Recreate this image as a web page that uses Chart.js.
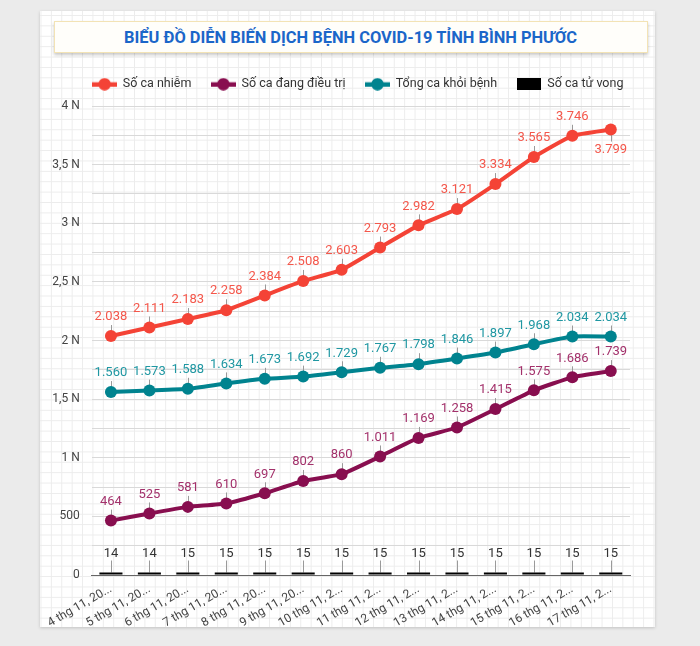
<!DOCTYPE html>
<html>
<head>
<meta charset="utf-8">
<script src="https://cdn.jsdelivr.net/npm/chart.js@4/dist/chart.umd.min.js"></script>
<style>
  html, body { margin:0; padding:0; }
  body { width:700px; height:646px; background:#ebebeb; position:relative; overflow:hidden; font-family:Roboto, sans-serif; }
  #card {
    position:absolute; left:40px; top:11px; width:615px; height:616px;
    background-color:#fff;
    background-image:
      linear-gradient(to right, #ececec 1px, transparent 1px),
      linear-gradient(to bottom, #ececec 1px, transparent 1px);
    background-size:10.4px 10.4px;
    background-position:0.5px 4px;
    box-shadow:0 1px 3px rgba(0,0,0,0.18);
  }
  #titlebox {
    position:absolute; left:54px; top:21px; width:592px; height:30px;
    background:#fffefa; border:1px solid #f3e3b5;
    box-shadow:0 2px 3px rgba(0,0,0,0.22);
    display:flex; align-items:center; justify-content:center;
  }
  #title {
    display:inline-block; white-space:nowrap;
    font-family:Roboto, sans-serif; font-weight:bold; font-size:17px; color:#1b66c9;
    transform-origin:center center;
  }
  #wrap { position:absolute; left:40px; top:56px; width:615px; height:571px; }
</style>
</head>
<body>
<div id="card"></div>
<div id="titlebox"><span id="title">BIỂU ĐỒ DIỄN BIẾN DỊCH BỆNH COVID-19 TỈNH BÌNH PHƯỚC</span></div>
<div id="wrap"><canvas id="c" width="615" height="571"></canvas></div>
<script>
// ---- data ----
const categories = ["4 thg 11, 2021","5 thg 11, 2021","6 thg 11, 2021","7 thg 11, 2021","8 thg 11, 2021","9 thg 11, 2021","10 thg 11, 2021","11 thg 11, 2021","12 thg 11, 2021","13 thg 11, 2021","14 thg 11, 2021","15 thg 11, 2021","16 thg 11, 2021","17 thg 11, 2021"];
const soCaNhiem   = [2038, 2111, 2183, 2258, 2384, 2508, 2603, 2793, 2982, 3121, 3334, 3565, 3746, 3799];
const dangDieuTri = [464, 525, 581, 610, 697, 802, 860, 1011, 1169, 1258, 1415, 1575, 1686, 1739];
const khoiBenh    = [1560, 1573, 1588, 1634, 1673, 1692, 1729, 1767, 1798, 1846, 1897, 1968, 2034, 2034];
const tuVong      = [14, 14, 15, 15, 15, 15, 15, 15, 15, 15, 15, 15, 15, 15];
const seriesNames = ["Số ca nhiễm", "Số ca đang điều trị", "Tổng ca khỏi bệnh", "Số ca tử vong"];
const yMin = 0, yMax = 4000, yStep = 250;

// title fit
(function(){
  const t = document.getElementById('title');
  const w = t.getBoundingClientRect().width;
  t.style.transform = 'scaleX(' + (453 / w) + ')';
})();

function fmt(v){ return String(v).replace(/\B(?=(\d{3})+(?!\d))/g, '.'); }

function lineIcon(color){
  const c = document.createElement('canvas');
  c.width = 25; c.height = 13;
  const x = c.getContext('2d');
  x.fillStyle = color;
  x.fillRect(0, 4.5, 25, 4.5);
  x.beginPath(); x.arc(12.5, 6.5, 6.2, 0, Math.PI*2); x.fill();
  return c;
}
function boxIcon(color){
  const c = document.createElement('canvas');
  c.width = 24; c.height = 12;
  const x = c.getContext('2d');
  x.fillStyle = color; x.fillRect(0,0,24,12);
  return c;
}

const colors = ['#f44336', '#880e4f', '#00838f', '#000000'];
const labelColors = ['#f4574b', '#a3316b', '#1f97a2', '#333333'];
const icons = [lineIcon(colors[0]), lineIcon(colors[1]), lineIcon(colors[2]), boxIcon(colors[3])];

const labelPlugin = {
  id: 'dl',
  beforeInit(chart){
    const lg = chart.legend;
    if (lg) {
      const orig = lg.fit.bind(lg);
      lg.fit = function(){ orig(); this.height = 48; };
    }
  },
  afterLayout(chart){
    const lg = chart.legend;
    if (lg) { lg.left += 23; lg.right += 23; }
  },
  beforeDatasetsDraw(chart){
    const ctx = chart.ctx;
    ctx.save();
    ctx.strokeStyle = '#9a9a9a'; ctx.lineWidth = 1;
    chart.data.datasets.forEach((ds, di) => {
      const meta = chart.getDatasetMeta(di);
      meta.data.forEach((el, i) => {
        const x = Math.round(el.x) + 0.5, y = el.y;
        ctx.beginPath();
        if (ds.type === 'bar') { ctx.moveTo(x, y); ctx.lineTo(x, y - 12); }
        else if (ds.labelBelow && ds.labelBelow[i]) { ctx.moveTo(x, y); ctx.lineTo(x, y + 12); }
        else { ctx.moveTo(x, y); ctx.lineTo(x, y - 11); }
        ctx.stroke();
      });
    });
    ctx.restore();
  },
  afterDatasetsDraw(chart){
    const ctx = chart.ctx;
    ctx.save();
    ctx.font = '13px Roboto';
    ctx.textAlign = 'center';
    ctx.textBaseline = 'middle';
    chart.data.datasets.forEach((ds, di) => {
      const meta = chart.getDatasetMeta(di);
      ctx.fillStyle = labelColors[di];
      meta.data.forEach((el, i) => {
        const v = ds.data[i];
        let y;
        if (ds.type === 'bar') y = el.y - 19;
        else if (ds.labelBelow && ds.labelBelow[i]) y = el.y + 20;
        else y = el.y - 19;
        ctx.fillText(fmt(v), el.x, y);
      });
    });
    ctx.restore();
  }
};

const lineDs = (label, data, color, order) => ({
  type: 'line', label, data, borderColor: color, backgroundColor: color,
  borderWidth: 4, pointRadius: 6, pointBackgroundColor: color, pointBorderWidth: 0,
  tension: 0.15, fill: false, order
});

const ds0 = lineDs(seriesNames[0], soCaNhiem, colors[0], 1);
ds0.labelBelow = soCaNhiem.map((v, i) => i === soCaNhiem.length - 1);

new Chart(document.getElementById('c'), {
  data: {
    labels: categories,
    datasets: [
      ds0,
      lineDs(seriesNames[1], dangDieuTri, colors[1], 2),
      lineDs(seriesNames[2], khoiBenh, colors[2], 3),
      { type: 'bar', label: seriesNames[3], data: tuVong, backgroundColor: colors[3],
        barPercentage: 0.75, categoryPercentage: 0.8, minBarLength: 2.5, order: 4 }
    ]
  },
  options: {
    responsive: false,
    animation: false,
    layout: { padding: { left: 0, right: 25, top: 2, bottom: 0 } },
    plugins: {
      legend: {
        position: 'top',
        labels: {
          usePointStyle: true, pointStyleWidth: 24, boxHeight: 12, padding: 20,
          color: '#333', font: { family: 'Roboto', size: 12.5 },
          generateLabels(chart){
            return chart.data.datasets.map((d, i) => ({
              text: d.label, pointStyle: icons[i], fillStyle: colors[i], strokeStyle: colors[i],
              lineWidth: 0, hidden: false, datasetIndex: i, fontColor: '#333'
            }));
          }
        }
      },
      tooltip: { enabled: false }
    },
    scales: {
      x: {
        offset: true,
        grid: { display: false, drawTicks: false },
        border: { display: true, color: '#666', width: 1 },
        ticks: {
          autoSkip: false, minRotation: 30, maxRotation: 30, padding: 7,
          color: '#444', font: { family: 'Roboto', size: 12 },
          callback(v){ const s = this.getLabelForValue(v); return s.length > 12 ? s.slice(0, 12) + '...' : s; }
        },
        afterFit(s){ s.height = 52; }
      },
      y: {
        min: yMin, max: yMax,
        grid: { color: '#d9d9d9', lineWidth: 1, drawTicks: false },
        border: { display: false },
        ticks: {
          stepSize: yStep, padding: 12, color: '#444', font: { family: 'Roboto', size: 12 },
          callback(v){
            if (v === 0) return '0';
            if (v % 500 !== 0) return '';
            if (v < 1000) return String(v);
            return String(v / 1000).replace('.', ',') + ' N';
          }
        },
        afterFit(s){ s.width = 50; }
      }
    }
  },
  plugins: [labelPlugin]
});
</script>
</body>
</html>
